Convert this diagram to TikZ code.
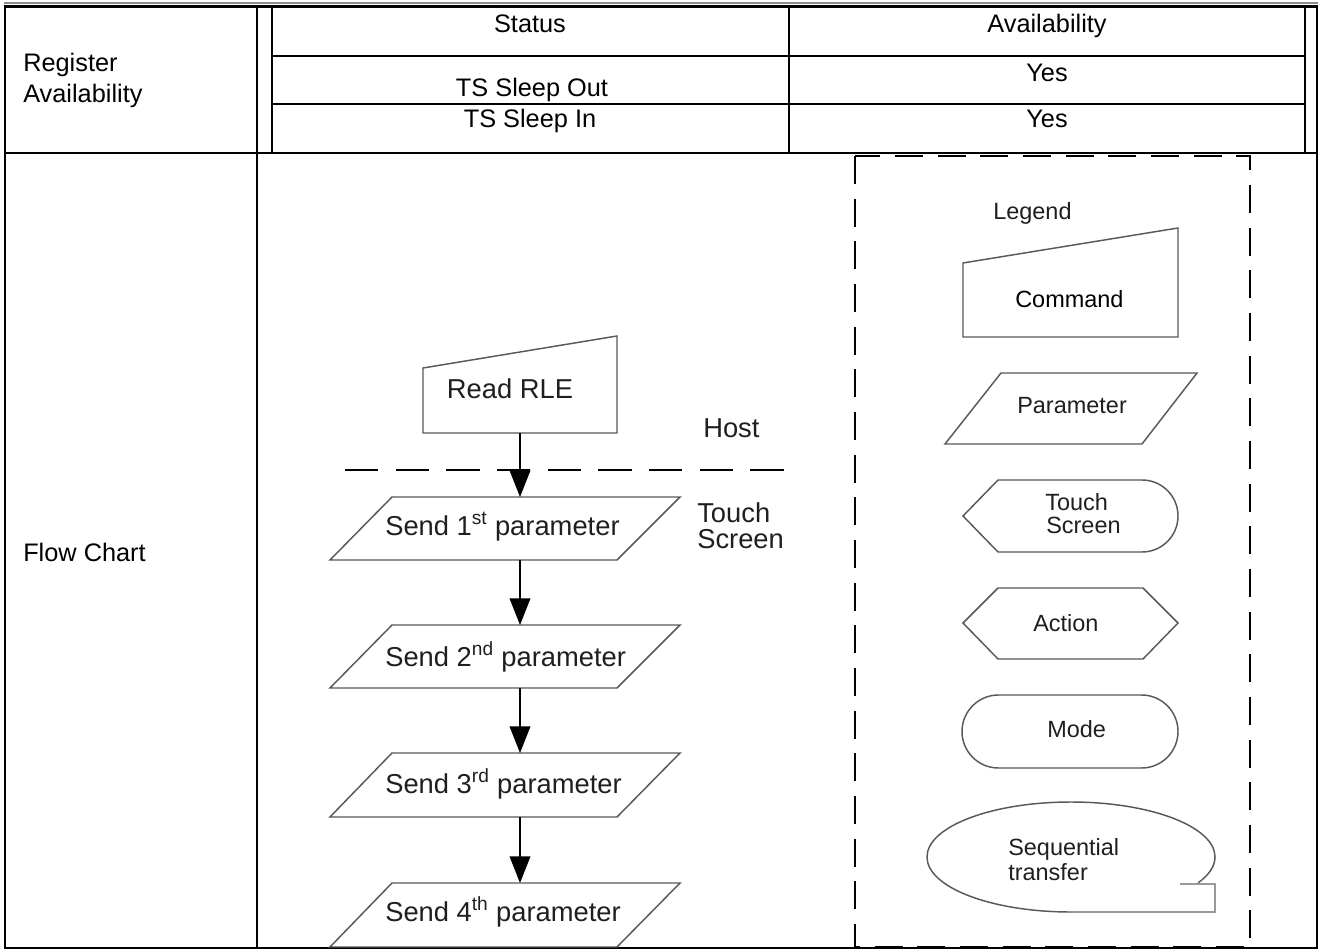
\documentclass[tikz,border=0pt]{standalone}
\usepackage{fontspec}
\setmainfont{Liberation Sans}
\usetikzlibrary{arrows.meta}
\begin{document}
\begin{tikzpicture}[x=0.75pt,y=-0.75pt,
  frame/.style={line width=2.2pt, draw=black},
  rule/.style={line width=1.1pt, draw=black},
  heavyrule/.style={line width=1.6pt, draw=black},
  shapeline/.style={line width=1.1pt, draw=black!65},
  tailline/.style={line width=1.1pt, draw=black!40},
  tbl/.style={font=\fontsize{19}{22}\selectfont, inner sep=0pt},
  flow/.style={font=\fontsize{20.5}{24}\selectfont, text=black!88, inner sep=0pt},
  leg/.style={font=\fontsize{17.6}{20}\selectfont, text=black!88, inner sep=0pt},
  flowarrow/.style={line width=1.1pt, draw=black, -{Triangle[length=20pt,width=15.5pt]}},
  hostline/.style={line width=1.1pt, draw=black, dash pattern=on 25pt off 13pt},
  legbox/.style={line width=1.5pt, draw=black, dash pattern=on 21pt off 11pt},
]
\useasboundingbox (0,0) rectangle (1321,952);
\fill[white] (0,0) rectangle (1321,952);

% ---------------- table frame ----------------
\draw[black!45, line width=0.8pt] (4,3) -- (1318,3);
\draw[frame] (5,6.5) rectangle (1317,948);
\draw[heavyrule] (257,6) -- (257,948);
\draw[heavyrule] (5,153) -- (1317,153);
\draw[heavyrule] (272,6) -- (272,153);
\draw[heavyrule] (1305,6) -- (1305,153);
\draw[rule] (272,56) -- (1305,56);
\draw[rule] (272,104) -- (1305,104);
\draw[rule] (789,6) -- (789,153);

% ---------------- table texts ----------------
\node[tbl, anchor=base] (status) at (530,33) {Status};
\node[tbl, anchor=base] (availhead) at (1047,33) {Availability};
\node[tbl, anchor=base] (sleepout) at (532,97) {TS Sleep Out};
\node[tbl, anchor=base] (yesone) at (1047,82) {Yes};
\node[tbl, anchor=base] (sleepin) at (530,128) {TS Sleep In};
\node[tbl, anchor=base] (yestwo) at (1047,128) {Yes};
\node[tbl, anchor=base west] (regone) at (23,72) {Register};
\node[tbl, anchor=base west] (regtwo) at (23,103) {Availability};
\node[tbl, anchor=base west] (flowchart) at (23,561) {Flow Chart};

% ---------------- flow chart ----------------
\draw[shapeline] (423,368) -- (617,336) -- (617,433) -- (423,433) -- cycle;
\node[flow, anchor=base] (rle) at (510,398) {Read RLE};

\draw[shapeline] (392,497) -- (680,497) -- (617,560) -- (330,560) -- cycle;
\draw[shapeline] (392,625) -- (680,625) -- (617,688) -- (330,688) -- cycle;
\draw[shapeline] (392,753) -- (680,753) -- (617,817) -- (330,817) -- cycle;
\draw[shapeline] (392,883) -- (680,883) -- (617,947) -- (330,947) -- cycle;
\node[flow, anchor=base west] (pone) at (385,535) {Send 1\textsuperscript{st} parameter};
\node[flow, anchor=base west] (ptwo) at (385,666) {Send 2\textsuperscript{nd} parameter};
\node[flow, anchor=base west] (pthree) at (385,793) {Send 3\textsuperscript{rd} parameter};
\node[flow, anchor=base west] (pfour) at (385,921) {Send 4\textsuperscript{th} parameter};

\coordinate (hostL) at (345,470);
\coordinate (hostR) at (788,470);
\draw[hostline] (hostL) -- (hostR);
\node[flow, anchor=base west] (host) at (703,437) {Host};
\node[flow, anchor=base west] (touchA) at (697,522) {Touch};
\node[flow, anchor=base west] (touchB) at (697,548) {Screen};

\coordinate (rleOut) at (520,433);
\coordinate (poneIn) at (520,497);
\coordinate (poneOut) at (520,560);
\coordinate (ptwoIn) at (520,625);
\coordinate (ptwoOut) at (520,688);
\coordinate (pthreeIn) at (520,753);
\coordinate (pthreeOut) at (520,817);
\coordinate (pfourIn) at (520,883);
\draw[flowarrow] (rleOut) -- (poneIn);
\draw[flowarrow] (poneOut) -- (ptwoIn);
\draw[flowarrow] (ptwoOut) -- (pthreeIn);
\draw[flowarrow] (pthreeOut) -- (pfourIn);

% ---------------- legend ----------------
\draw[legbox] (855,156) rectangle (1250,947);
\node[leg, anchor=base west] (legend) at (993,220) {Legend};

\draw[shapeline] (963,263) -- (1178,228) -- (1178,337) -- (963,337) -- cycle;
\node[leg, anchor=base west, text=black] (command) at (1015,308) {Command};

\draw[shapeline] (1001,373) -- (1197,373) -- (1142,444) -- (945,444) -- cycle;
\node[leg, anchor=base west] (parameter) at (1017,413) {Parameter};

\draw[shapeline] (963,516) -- (998,480) -- (1142,480)
  arc[start angle=-90, end angle=90, radius=36] -- (998,552) -- cycle;
\node[leg, anchor=base west] (tsA) at (1045,510) {Touch};
\node[leg, anchor=base west] (tsB) at (1046,533) {Screen};

\draw[shapeline] (963,623) -- (998,588) -- (1143,588) -- (1178,623) -- (1143,659) -- (998,659) -- cycle;
\node[leg, anchor=base west] (action) at (1033,631) {Action};

\draw[shapeline] (998.5,695) -- (1141.5,695)
  arc[start angle=-90, end angle=90, radius=36.5] -- (998.5,768)
  arc[start angle=90, end angle=270, radius=36.5] -- cycle;
\node[leg, anchor=base west] (mode) at (1047,737) {Mode};

\draw[shapeline] (1071,912) arc[start angle=90, end angle=388, x radius=144, y radius=55];
\draw[tailline] (1180,884) -- (1215,884) -- (1215,912) -- (1071,912);
\node[leg, anchor=base west] (seqA) at (1008,855) {Sequential};
\node[leg, anchor=base west] (seqB) at (1008,880) {transfer};
\end{tikzpicture}
\end{document}
